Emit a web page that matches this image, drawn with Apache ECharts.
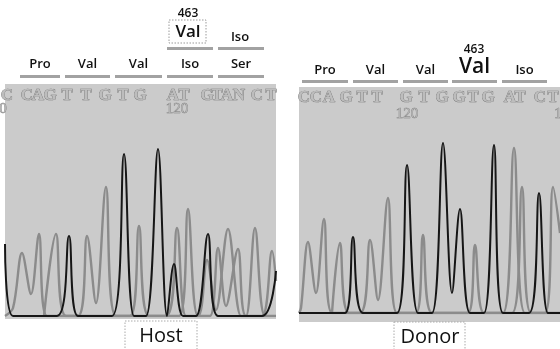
<!DOCTYPE html>
<html>
<head>
<meta charset="utf-8">
<script src="https://cdn.jsdelivr.net/npm/echarts@6/dist/echarts.min.js"></script>
<style>html,body{margin:0;padding:0;background:#fff}#c{width:560px;height:349px}</style>
</head>
<body>
<div id="c"></div>
<script>
// ---- data ----
const positionLabel = '463';
const hostCodonsTop = ['Val', 'Iso'];
const hostCodons = ['Pro', 'Val', 'Val', 'Iso', 'Ser'];
const donorCodons = ['Pro', 'Val', 'Val', 'Val', 'Iso'];
const hostSeq = ['C','C','A','G','T','T','G','T','G','A','T','G','T','A','N','C','T'];
const donorSeq = ['C','C','A','G','T','T','G','T','G','G','T','G','A','T','C','T'];
const seqTick = '120';
const hostName = 'Host';
const donorName = 'Donor';

// traces: [scan position, signal]
const hostBlack = [[5,72],[13,0],[57,0],[69,80],[78,0],[112,0],[124,162],[134,0],[146,0],[158,167],[167,0],[174,52],[183,0],[196,0],[208,82],[218,0],[262,0],[276,45]];
const hostGrayA = [[5,0],[13,8],[22,63],[31,22],[39,82],[47,0],[78,0],[87,80],[96,13],[106,129],[116,0],[166,0],[177,88],[186,0],[198,0],[207,56],[216,6],[228,87],[241,0],[246,0],[255,88],[265,0],[276,0]];
const hostGrayB = [[44,0],[56,82],[66,0],[130,0],[139,90],[149,0],[179,0],[188,107],[198,0],[210,0],[218,68],[226,10],[238,67],[246,0],[262,0],[272,65],[276,35]];
const donorBlack = [[299,0],[345,0],[353,76],[363,0],[397,0],[407,148],[418,0],[432,0],[443,170],[452,20],[460,104],[470,0],[484,0],[494,168],[503,0],[529,0],[539,120],[548,0],[560,0]];
const donorGrayA = [[299,0],[301,5],[308,71],[316,20],[324,94],[332,0],[360,0],[370,73],[378,13],[388,115],[397,0],[416,0],[423,78],[432,0],[468,0],[475,68],[484,0],[503,0],[514,165],[525,0],[545,0],[553,126],[560,80]];
const donorGrayB = [[332,0],[340,70],[349,0],[512,0],[522,126],[531,0],[560,0]];

// ---- layout ----
const HOST = {left:5, top:84, width:271, height:232, bg:[5,84,271,235]};
const DONOR = {left:299, top:87, width:261, height:226, bg:[299,87,261,235]};
const hostSeqX = [7,27,38,50,67,86,105,123,140,173,184,207,217,227,239,257,271];
const donorSeqX = [304,316,329,346,362,377,406,424,442,459,473,488,510,520,540,553];
const hostBars = [[20,60],[65,110],[115,162],[167,213],[218,264]];
const hostTopBars = [[167,213],[218,264]];
const donorBars = [[302,348],[353,398],[403,448],[452,497],[502,547]];

const BLACK = '#161616', GRAY = '#8b8b8b';
const labelFont = '600 13px "Open Sans", sans-serif';

const g = [];
// panel backgrounds
[HOST.bg, DONOR.bg].forEach(b => g.push({type:'rect', z:-10, shape:{x:b[0],y:b[1],width:b[2],height:b[3]}, style:{fill:'#cbcbcb'}}));
// codon bars
function bars(list, y) { list.forEach(b => g.push({type:'rect', shape:{x:b[0], y:y, width:b[1]-b[0], height:3}, style:{fill:'#a2a2a2'}})); }
bars(hostBars, 75); bars(hostTopBars, 47); bars(donorBars, 80);
// codon labels
hostCodons.forEach((t,i) => g.push({type:'text', x:(hostBars[i][0]+hostBars[i][1])/2, y:64, style:{text:t, font:labelFont, fill:'#111', align:'center', verticalAlign:'middle'}}));
donorCodons.forEach((t,i) => {
  const big = i === 3;
  g.push({type:'text', x:(donorBars[i][0]+donorBars[i][1])/2, y: big ? 67 : 70, style:{text:t, font: big ? '600 21px "Open Sans", sans-serif' : labelFont, fill:'#111', align:'center', verticalAlign:'middle'}});
});
// host top row
g.push({type:'rect', shape:{x:169,y:20,width:37,height:23}, style:{fill:'none', stroke:'#9a9a9a', lineWidth:1, lineDash:[1.5,1.5]}});
g.push({type:'text', x:188, y:32, style:{text:hostCodonsTop[0], font:'600 17px "Open Sans", sans-serif', fill:'#111', align:'center', verticalAlign:'middle'}});
g.push({type:'text', x:240, y:37, style:{text:hostCodonsTop[1], font:labelFont, fill:'#111', align:'center', verticalAlign:'middle'}});
g.push({type:'text', x:188, y:14, style:{text:positionLabel, font:'600 12px "Open Sans", sans-serif', fill:'#111', align:'center', verticalAlign:'middle'}});
g.push({type:'text', x:474, y:50, style:{text:positionLabel, font:'600 12px "Open Sans", sans-serif', fill:'#111', align:'center', verticalAlign:'middle'}});
// sequences
const seqStyle = {font:'bold 17px "Liberation Serif", serif', fill:'#bdbdbd', stroke:'#727272', lineWidth:0.7, align:'center', verticalAlign:'middle'};
hostSeq.forEach((c,i) => g.push({type:'text', x:hostSeqX[i], y:96, style:Object.assign({text:c}, seqStyle)}));
donorSeq.forEach((c,i) => g.push({type:'text', x:donorSeqX[i], y:98, style:Object.assign({text:c}, seqStyle)}));
const tickStyle = {font:'15px "Liberation Serif", serif', fill:'#b4b4b4', stroke:'#777', lineWidth:0.6, align:'center', verticalAlign:'middle'};
g.push({type:'text', x:177, y:109, style:Object.assign({text:seqTick}, tickStyle)});
g.push({type:'text', x:407, y:114, style:Object.assign({text:seqTick}, tickStyle)});
g.push({type:'text', x:3, y:109, style:Object.assign({text:seqTick.slice(-1)}, tickStyle)});
g.push({type:'text', x:558, y:114, style:Object.assign({text:seqTick.slice(0,1)}, tickStyle)});
// name boxes
g.push({type:'rect', shape:{x:125,y:321,width:72,height:30}, style:{fill:'#fff', stroke:'#aaa', lineWidth:1, lineDash:[1.5,1.5]}});
g.push({type:'text', x:161, y:336, style:{text:hostName, font:'20px "Open Sans", sans-serif', fill:'#111', align:'center', verticalAlign:'middle'}});
g.push({type:'rect', shape:{x:394,y:322,width:71,height:30}, style:{fill:'#fff', stroke:'#aaa', lineWidth:1, lineDash:[1.5,1.5]}});
g.push({type:'text', x:430, y:337, style:{text:donorName, font:'20px "Open Sans", sans-serif', fill:'#111', align:'center', verticalAlign:'middle'}});

function trace(data, idx, color) {
  return {type:'line', xAxisIndex:idx, yAxisIndex:idx, data:data, smooth:0.35, showSymbol:false, symbol:'none', silent:true, clip:true,
    lineStyle:{color:color, width: color === BLACK ? 2 : 2.4}, z: color === BLACK ? 4 : 3};
}
const chart = echarts.init(document.getElementById('c'), null, {renderer:'canvas'});
chart.setOption({
  animation:false,
  backgroundColor:'#fff',
  grid:[
    {left:HOST.left, top:HOST.top, width:HOST.width, height:HOST.height},
    {left:DONOR.left, top:DONOR.top, width:DONOR.width, height:DONOR.height}
  ],
  xAxis:[
    {type:'value', gridIndex:0, min:HOST.left, max:HOST.left+HOST.width, show:false},
    {type:'value', gridIndex:1, min:DONOR.left, max:DONOR.left+DONOR.width, show:false}
  ],
  yAxis:[
    {type:'value', gridIndex:0, min:0, max:HOST.height, show:false},
    {type:'value', gridIndex:1, min:0, max:DONOR.height, show:false}
  ],
  graphic:g,
  series:[
    trace(hostGrayA,0,GRAY), trace(hostGrayB,0,GRAY), trace(hostBlack,0,BLACK),
    trace(donorGrayA,1,GRAY), trace(donorGrayB,1,GRAY), trace(donorBlack,1,BLACK)
  ]
});
</script>
</body>
</html>
